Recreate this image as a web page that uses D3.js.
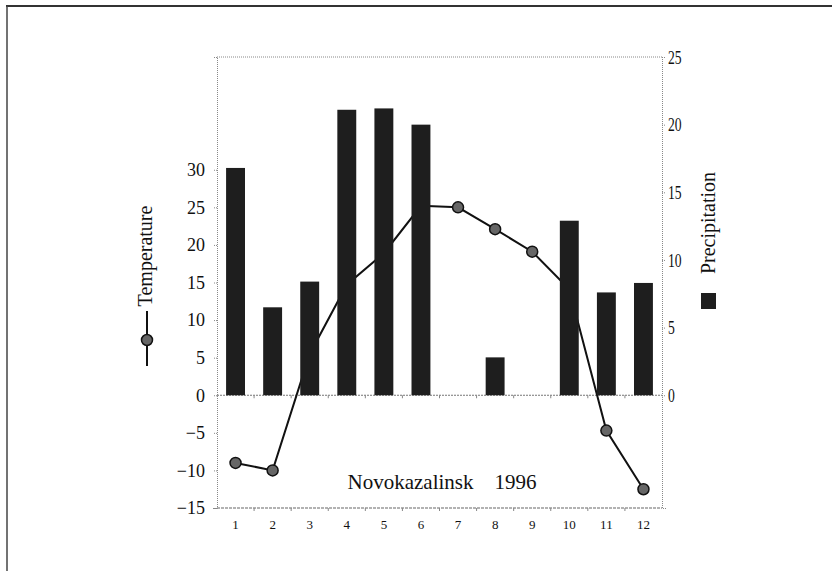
<!DOCTYPE html>
<html>
<head>
<meta charset="utf-8">
<script src="https://cdn.jsdelivr.net/npm/d3@7"></script>
<style>
  body { margin: 0; background: #fff; }
  svg text { font-family: "Liberation Serif", "DejaVu Serif", serif; fill: #111; }
</style>
</head>
<body>
<svg id="chart" width="832" height="571"></svg>
<script>
// months along the bottom
var months = [1, 2, 3, 4, 5, 6, 7, 8, 9, 10, 11, 12];
// monthly mean temperature, left axis
var temperature = [-9, -10, 5.5, 14.7, 18.9, 25.2, 25, 22.1, 19.1, 14.1, -4.7, -12.5];
// monthly precipitation, right axis
var precipitation = [16.8, 6.5, 8.4, 21.1, 21.2, 20.0, 0, 2.8, 0, 12.9, 7.6, 8.3];
// tick labels
var tempTicks = [-15, -10, -5, 0, 5, 10, 15, 20, 25, 30];
var precTicks = [0, 5, 10, 15, 20, 25];
var title = "Novokazalinsk    1996";

var svg = d3.select("#chart");

/* plot box (window.top is reserved, so own names) */
var boxL = 217, boxR = 662, boxT = 57, boxB = 508;

var x = d3.scaleBand()
    .domain(months)
    .range([boxL, boxR])
    .paddingInner(0.49)
    .paddingOuter(0.245);
var step = x.step();

var yT = d3.scaleLinear().domain([-15, 45]).range([boxB, boxT]);
var yP = d3.scaleLinear().domain([-25 / 3, 25]).range([boxB, boxT]);

var fmt = function(d) { return d < 0 ? "\u2212" + Math.abs(d) : String(d); };

/* scan frame: top and left edges */
svg.append("line").attr("x1", 6).attr("y1", 6).attr("x2", 832).attr("y2", 6)
    .attr("stroke", "#333").attr("stroke-width", 2);
svg.append("line").attr("x1", 7).attr("y1", 6).attr("x2", 7).attr("y2", 571)
    .attr("stroke", "#444").attr("stroke-width", 1.5);

/* dotted box around the plot */
var boxStyle = function(sel) {
    sel.attr("stroke", "#888").attr("stroke-width", 1).attr("stroke-dasharray", "1,1").attr("fill", "none");
};
svg.append("line").attr("x1", boxL).attr("x2", boxR).attr("y1", boxT).attr("y2", boxT).call(boxStyle);
svg.append("line").attr("x1", boxL).attr("x2", boxR).attr("y1", boxB).attr("y2", boxB)
    .attr("stroke", "#666").attr("stroke-width", 1.2).attr("stroke-dasharray", "3,1");
svg.append("line").attr("x1", boxL).attr("x2", boxR).attr("y1", yT(0)).attr("y2", yT(0))
    .attr("stroke", "#777").attr("stroke-width", 1.2).attr("stroke-dasharray", "2,1");

/* left axis: temperature */
var axL = svg.append("g")
    .attr("transform", "translate(" + boxL + ",0)")
    .call(d3.axisLeft(yT).tickValues(tempTicks).tickSize(4).tickPadding(8).tickFormat(fmt));
axL.select(".domain").call(boxStyle);
axL.selectAll(".tick line").attr("stroke", "#888").attr("stroke-dasharray", "1,1");
axL.selectAll(".tick text").style("font-size", "18px");

/* right axis: precipitation, labels narrow as in the scan */
var axR = svg.append("g")
    .attr("transform", "translate(" + boxR + ",0)")
    .call(d3.axisRight(yP).tickValues(precTicks).tickSize(4).tickPadding(4).tickFormat(fmt));
axR.select(".domain").call(boxStyle);
axR.selectAll(".tick line").attr("stroke", "#888").attr("stroke-dasharray", "1,1");
axR.selectAll(".tick text")
    .attr("x", 0)
    .attr("transform", "translate(6,0) scale(0.72,1)")
    .style("font-size", "19px");

/* small ticks between categories on zero line and bottom */
var bounds = d3.range(1, months.length).map(function(i) { return boxL + i * step; });
[yT(0), boxB].forEach(function(yy) {
    svg.append("g").selectAll("line").data(bounds).enter().append("line")
        .attr("x1", function(d) { return d; }).attr("x2", function(d) { return d; })
        .attr("y1", yy).attr("y2", yy + 3)
        .attr("stroke", "#888").attr("stroke-width", 1);
});

/* month labels */
svg.append("g").selectAll("text").data(months).enter().append("text")
    .attr("x", function(d) { return x(d) + x.bandwidth() / 2; })
    .attr("y", boxB + 21)
    .attr("text-anchor", "middle")
    .style("font-size", "13px")
    .text(function(d) { return d; });

/* temperature line, drawn under the bars */
var pts = months.map(function(m, i) { return [x(m) + x.bandwidth() / 2, yT(temperature[i])]; });
svg.append("path")
    .attr("d", d3.line()(pts))
    .attr("fill", "none")
    .attr("stroke", "#111")
    .attr("stroke-width", 2);
svg.append("g").selectAll("circle").data(pts).enter().append("circle")
    .attr("cx", function(d) { return d[0]; })
    .attr("cy", function(d) { return d[1]; })
    .attr("r", 5.5)
    .attr("fill", "#666")
    .attr("stroke", "#111")
    .attr("stroke-width", 1.5);

/* precipitation bars */
svg.append("g").selectAll("rect").data(months).enter().append("rect")
    .attr("x", function(d) { return x(d); })
    .attr("width", x.bandwidth())
    .attr("y", function(d, i) { return yP(precipitation[i]); })
    .attr("height", function(d, i) { return yP(0) - yP(precipitation[i]); })
    .attr("fill", "#1e1e1e");

/* station title */
svg.append("text")
    .attr("x", 442)
    .attr("y", 489)
    .attr("text-anchor", "middle")
    .attr("xml:space", "preserve")
    .style("font-size", "21px")
    .style("white-space", "pre")
    .text(title);

/* legend: temperature */
var lg = svg.append("g").attr("transform", "translate(147,0)");
lg.append("text")
    .attr("transform", "translate(5,256) rotate(-90)")
    .attr("text-anchor", "middle")
    .style("font-size", "20px")
    .text("Temperature");
lg.append("line").attr("x1", 0).attr("x2", 0).attr("y1", 311).attr("y2", 366)
    .attr("stroke", "#111").attr("stroke-width", 2);
lg.append("circle").attr("cx", 0).attr("cy", 340).attr("r", 5.5)
    .attr("fill", "#666").attr("stroke", "#111").attr("stroke-width", 1.5);

/* legend: precipitation */
var lgP = svg.append("g").attr("transform", "translate(709,0)");
lgP.append("text")
    .attr("transform", "translate(6,223) rotate(-90)")
    .attr("text-anchor", "middle")
    .style("font-size", "20px")
    .text("Precipitation");
lgP.append("rect").attr("x", -8).attr("y", 293).attr("width", 15).attr("height", 16)
    .attr("fill", "#1e1e1e");
</script>
</body>
</html>
